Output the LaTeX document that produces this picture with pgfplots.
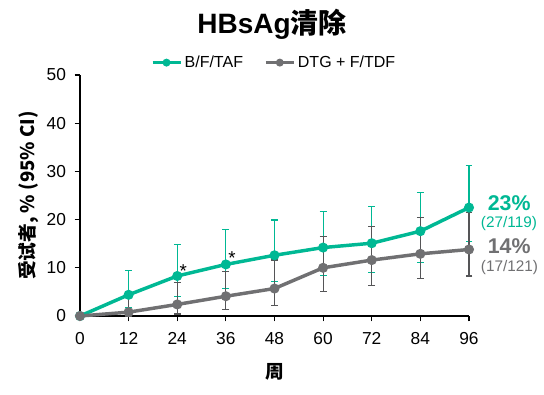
\documentclass[border=0pt]{standalone}
\usepackage{pgfplots}
\pgfplotsset{compat=1.18}
\usepackage{fontspec}
\setmainfont{Liberation Sans}
\newfontfamily\cjk{Noto Sans CJK SC}
\definecolor{cgreen}{RGB}{0,184,148}
\definecolor{cgray}{RGB}{112,112,114}
\definecolor{cgraydark}{RGB}{85,85,87}
\begin{document}
\begin{tikzpicture}
\useasboundingbox (0pt,0pt) rectangle (408pt,295.5pt);
\begin{axis}[
  at={(60pt,58.5pt)}, anchor=south west,
  scale only axis, width=291.75pt, height=180.75pt,
  xmin=0, xmax=96, ymin=0, ymax=50,
  axis lines=left, axis line style={-, line width=0.9pt},
  xtick={0,12,...,96}, ytick={0,10,...,50},
  tick align=outside, major tick length=4pt,
  tick style={line width=0.9pt, black},
  tick label style={font=\fontsize{13}{15}\selectfont},
  xticklabel style={yshift=-5pt},
  yticklabel style={xshift=-3pt},
  /pgf/number format/assume math mode=true,
  xlabel={\cjk\bfseries 周}, xlabel style={font=\fontsize{14}{16}\selectfont, yshift=-7pt},
  ylabel={\cjk\bfseries 受试者, \% (95\% CI)}, ylabel style={font=\fontsize{14}{16}\selectfont, yshift=-1pt},
  clip=false,
  legend style={at={(0.5,1.0)}, anchor=south, yshift=0pt, draw=none, legend columns=2,
    font=\fontsize{12}{14}\selectfont, /tikz/every even column/.append style={column sep=14pt}},
  legend image code/.code={\draw[#1, mark=none, line width=2.2pt] (0pt,0pt) -- (21pt,0pt); \fill[#1] (10.5pt,0pt) circle (1.6pt);},
]
\addplot[cgreen, line width=2.6pt, mark=*, mark size=2.4pt,
  error bars/.cd, y dir=both, y explicit,
  error bar style={line width=0.9pt, cgreen}, error mark options={rotate=90, mark size=2.6pt, line width=0.9pt, cgreen}]
coordinates {
(0,0) +=(0,0) -=(0,0)
(12,4.4) +=(0,5.1) -=(0,2.7)
(24,8.3) +=(0,6.6) -=(0,4.2)
(36,10.7) +=(0,7.3) -=(0,5.0)
(48,12.6) +=(0,7.3) -=(0,5.4)
(60,14.2) +=(0,7.5) -=(0,5.8)
(72,15.1) +=(0,7.7) -=(0,6.0)
(84,17.6) +=(0,8.1) -=(0,6.5)
(96,22.5) +=(0,8.8) -=(0,7.0)
};
\addlegendentry{B/F/TAF}
\addplot[cgray, line width=2.6pt, mark=*, mark size=2.4pt,
  error bars/.cd, y dir=both, y explicit,
  error bar style={line width=0.9pt, cgraydark}, error mark options={rotate=90, mark size=2.6pt, line width=0.9pt, cgraydark}]
coordinates {
(0,0) +=(0,0) -=(0,0)
(12,0.8) +=(0,3.2) -=(0,0.8)
(24,2.4) +=(0,4.6) -=(0,2.0)
(36,4.1) +=(0,5.2) -=(0,2.7)
(48,5.7) +=(0,5.9) -=(0,3.5)
(60,10.0) +=(0,6.5) -=(0,4.9)
(72,11.6) +=(0,7.0) -=(0,5.2)
(84,12.9) +=(0,7.6) -=(0,5.2)
(96,13.8) +=(0,7.7) -=(0,5.5)
};
\addlegendentry{DTG + F/TDF}
\node[font=\fontsize{14}{16}\selectfont] at (axis cs:25.5,9.4) {*};
\node[font=\fontsize{14}{16}\selectfont] at (axis cs:37.5,12.0) {*};
\node[anchor=west, cgreen, font=\fontsize{16}{18}\bfseries] at (axis cs:99.5,23.4) {23\%};
\node[anchor=west, cgreen, font=\fontsize{11.5}{13}\selectfont] at (axis cs:97.8,19.2) {(27/119)};
\node[anchor=west, cgray, font=\fontsize{16}{18}\bfseries] at (axis cs:99.5,14.4) {14\%};
\node[anchor=west, cgray, font=\fontsize{11.5}{13}\selectfont] at (axis cs:97.8,10.1) {(17/121)};
\end{axis}
\node[font=\fontsize{21}{24}\bfseries] at (204pt,277.5pt) {HBsAg{\cjk\bfseries 清除}};
\end{tikzpicture}
\end{document}
